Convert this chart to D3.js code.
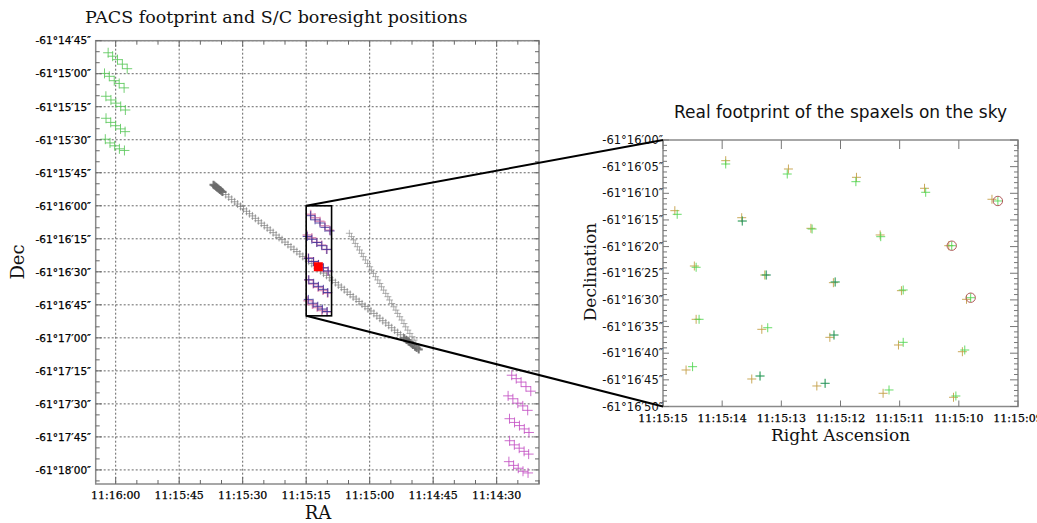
<!DOCTYPE html>
<html>
<head>
<meta charset="utf-8">
<script src="https://cdn.jsdelivr.net/npm/d3@7"></script>
<style>
  body { margin: 0; background: #fff; }
  svg { display: block; }
</style>
</head>
<body>
<svg id="chart" width="1037" height="523"></svg>
<script>
// RA values are seconds after 11:14:00, Dec values are arcseconds south of -61°14'00".

// --- Axis ticks ---
const leftRaTicks = [120, 105, 90, 75, 60, 45, 30];
const leftRaLabels = ["11:16:00", "11:15:45", "11:15:30", "11:15:15", "11:15:00", "11:14:45", "11:14:30"];
const leftDecTicks = [45, 60, 75, 90, 105, 120, 135, 150, 165, 180, 195, 210, 225, 240];
const leftDecLabels = ["-61°14′45″", "-61°15′00″", "-61°15′15″", "-61°15′30″", "-61°15′45″",
  "-61°16′00″", "-61°16′15″", "-61°16′30″", "-61°16′45″", "-61°17′00″",
  "-61°17′15″", "-61°17′30″", "-61°17′45″", "-61°18′00″"];
const rightRaTicks = [75, 74, 73, 72, 71, 70, 69];
const rightRaLabels = ["11:15:15", "11:15:14", "11:15:13", "11:15:12", "11:15:11", "11:15:10", "11:15:09"];
const rightDecTicks = [120, 125, 130, 135, 140, 145, 150, 155, 160, 165, 170];
const rightDecLabels = ["-61°16′00″", "-61°16′05″", "-61°16′10″", "-61°16′15″", "-61°16′20″",
  "-61°16′25″", "-61°16′30″", "-61°16′35″", "-61°16′40″", "-61°16′45″", "-61°16′50″"];

// --- Spaxel centres, first observation (gold) ---
const spaxARa = [73.94, 72.88, 71.73, 70.58, 69.44, 74.80, 73.67, 72.50, 71.33, 70.17,
  74.47, 73.28, 72.12, 70.97, 69.87, 74.44, 73.33, 72.18, 71.02, 69.94,
  74.61, 73.50, 72.40, 71.28, 70.09];
const spaxADec = [123.88, 125.44, 127.00, 129.06, 131.12, 133.26, 134.58, 136.57, 137.82, 139.83,
  143.64, 145.33, 146.77, 148.27, 149.89, 153.64, 155.52, 157.02, 158.46, 159.72,
  163.15, 164.84, 166.15, 167.52, 168.27];

// --- Spaxel centres, second observation (green) ---
const spaxBRa = [73.94, 72.90, 71.74, 70.56, 69.34, 74.76, 73.66, 72.48, 71.32, 70.12,
  74.44, 73.26, 72.09, 70.94, 69.80, 74.39, 73.23, 72.11, 70.94, 69.90,
  74.50, 73.36, 72.26, 71.18, 70.05];
const spaxBDec = [124.50, 126.38, 127.82, 129.81, 131.44, 133.94, 135.20, 136.70, 138.14, 139.83,
  143.88, 145.33, 146.64, 148.14, 149.59, 153.64, 155.22, 156.59, 157.96, 159.40,
  162.53, 164.28, 165.65, 166.90, 168.03];

// --- Spaxel centres, third observation (dark teal, mostly hidden under green) ---
const spaxCRa = [73.66, 73.25, 72.09, 72.11, 73.36, 72.26];
const spaxCDec = [135.20, 145.33, 146.64, 156.59, 164.28, 165.65];

// spaxels flagged with a circle
const flaggedRa = [69.34, 70.12, 69.80];
const flaggedDec = [131.44, 139.83, 149.59];

// --- Off-source footprint, north-east position ---
const offNeRa = [121.78, 120.72, 119.57, 118.42, 117.28, 122.64, 121.51, 120.34, 119.17, 118.01,
  122.31, 121.12, 119.96, 118.81, 117.71, 122.28, 121.17, 120.02, 118.86, 117.78,
  122.45, 121.34, 120.24, 119.12, 117.93];
const offNeDec = [50.48, 52.04, 53.60, 55.66, 57.72, 59.86, 61.18, 63.17, 64.42, 66.43,
  70.24, 71.93, 73.37, 74.87, 76.49, 80.24, 82.12, 83.62, 85.06, 86.32,
  89.75, 91.44, 92.75, 94.12, 94.87];

// --- Off-source footprint, south-west position ---
const offSwRa = [26.44, 25.38, 24.23, 23.08, 21.94, 27.30, 26.17, 25.00, 23.83, 22.67,
  26.97, 25.78, 24.62, 23.47, 22.37, 26.94, 25.83, 24.68, 23.52, 22.44,
  27.11, 26.00, 24.90, 23.78, 22.59];
const offSwDec = [196.98, 198.54, 200.10, 202.16, 204.22, 206.36, 207.68, 209.67, 210.92, 212.93,
  216.74, 218.43, 219.87, 221.37, 222.99, 226.74, 228.62, 230.12, 231.56, 232.82,
  236.25, 237.94, 239.25, 240.62, 241.37];

// --- Spacecraft boresight, long slew ---
const slewRa = [96.8, 96.1, 95.4, 94.7, 94.0, 93.3, 92.6, 91.9, 91.2, 90.5, 89.8, 89.1, 88.4, 87.7,
  87.0, 86.3, 85.6, 84.9, 84.2, 83.5, 82.8, 82.1, 81.4, 80.7, 80.0, 79.3, 78.6, 77.9, 77.2, 76.5,
  75.8, 75.1, 74.4, 73.7, 73.0, 72.3, 71.6, 70.9, 70.2, 69.5, 68.8, 68.1, 67.4, 66.7, 66.0, 65.3,
  64.6, 63.9, 63.2, 62.5, 61.8, 61.1, 60.4, 59.7, 59.0, 58.3, 57.6, 56.9, 56.2, 55.5, 54.8, 54.1,
  53.4, 52.7, 52.0, 51.3, 50.6, 49.9, 49.2, 48.5];
const slewDec = [110.6, 111.7, 112.8, 113.8, 114.9, 116.0, 117.1, 118.2, 119.2, 120.3, 121.4, 122.5,
  123.6, 124.6, 125.7, 126.8, 127.9, 129.0, 130.0, 131.1, 132.2, 133.3, 134.4, 135.4, 136.5, 137.6,
  138.7, 139.8, 140.8, 141.9, 143.0, 144.1, 145.2, 146.2, 147.3, 148.4, 149.5, 150.6, 151.6, 152.7,
  153.8, 154.9, 156.0, 157.0, 158.1, 159.2, 160.3, 161.4, 162.4, 163.5, 164.6, 165.7, 166.8, 167.8,
  168.9, 170.0, 171.1, 172.2, 173.2, 174.3, 175.4, 176.5, 177.6, 178.6, 179.7, 180.8, 181.9, 183.0,
  184.0, 185.1];
// dense dwell at both ends of the slew
const dwellRa = [96.9, 96.6, 96.3, 96.0, 95.7, 95.4, 95.1, 94.8, 51.8, 51.3, 50.8, 50.3, 49.8, 49.3, 48.9, 48.4];
const dwellDec = [110.4, 110.9, 111.4, 111.8, 112.3, 112.8, 113.2, 113.7, 180.2, 181.0, 181.8, 182.5, 183.2, 184.0, 184.6, 185.3];

// --- Spacecraft boresight, short slew ---
const slew2Ra = [64.8, 64.3, 63.8, 63.4, 62.9, 62.4, 61.9, 61.5, 61.0, 60.5, 60.0, 59.6, 59.1, 58.6,
  58.1, 57.6, 57.2, 56.7, 56.2, 55.7, 55.3, 54.8, 54.3, 53.8, 53.4, 52.9, 52.4, 51.9, 51.5, 51.0,
  50.5, 50.0, 49.5, 49.1, 48.6];
const slew2Dec = [132.5, 134.0, 135.5, 137.1, 138.6, 140.1, 141.6, 143.1, 144.6, 146.2, 147.7, 149.2,
  150.7, 152.2, 153.7, 155.3, 156.8, 158.3, 159.8, 161.3, 162.8, 164.4, 165.9, 167.4, 168.9, 170.4,
  171.9, 173.5, 175.0, 176.5, 178.0, 179.5, 181.0, 182.6, 184.1];

// target position
const targetRa = [72.13];
const targetDec = [147.7];

// zoomed field shown on the right
const zoomRa = [75, 69];
const zoomDec = [120, 170];

// ------------------------------------------------------------------
const svg = d3.select("#chart");

const xL = d3.scaleLinear().domain([124.72, 20]).range([95.7, 539]);
const yL = d3.scaleLinear().domain([45, 246.4]).range([40.7, 484]);
const xR = d3.scaleLinear().domain([75, 69]).range([663, 1018]);
const yR = d3.scaleLinear().domain([120, 170]).range([140, 406.5]);

const serif = "'DejaVu Serif', serif";
const sans = "'DejaVu Sans', sans-serif";

function crosses(g, x, y, ra, dec, arm, style) {
  g.append("g").selectAll("path")
    .data(d3.range(ra.length))
    .join("path")
    .attr("d", i => {
      const px = x(ra[i]), py = y(dec[i]);
      return `M${px - arm},${py}h${2 * arm}M${px},${py - arm}v${2 * arm}`;
    })
    .attr("fill", "none")
    .attr("stroke", style.color)
    .attr("stroke-width", style.width || 1)
    .attr("stroke-opacity", style.opacity == null ? 1 : style.opacity);
}

function minorValues(lo, hi, step, majors) {
  const out = [];
  for (let v = Math.ceil(lo / step) * step; v <= hi + 1e-9; v += step) {
    if (!majors.some(m => Math.abs(m - v) < 1e-6)) out.push(v);
  }
  return out;
}

function frameTicks(g, x, y, xMaj, yMaj, xMin, yMin, majLen, minLen, color) {
  const [x0, x1] = x.range(), [y0, y1] = y.range();
  const t = g.append("g").attr("stroke", color).attr("stroke-width", 1);
  xMaj.forEach(v => {
    t.append("line").attr("x1", x(v)).attr("x2", x(v)).attr("y1", y1).attr("y2", y1 - majLen.bottom);
    t.append("line").attr("x1", x(v)).attr("x2", x(v)).attr("y1", y0).attr("y2", y0 + majLen.top);
  });
  xMin.forEach(v => {
    t.append("line").attr("x1", x(v)).attr("x2", x(v)).attr("y1", y1).attr("y2", y1 - minLen);
    t.append("line").attr("x1", x(v)).attr("x2", x(v)).attr("y1", y0).attr("y2", y0 + minLen);
  });
  yMaj.forEach(v => {
    t.append("line").attr("x1", x0).attr("x2", x0 + majLen.left).attr("y1", y(v)).attr("y2", y(v));
    t.append("line").attr("x1", x1).attr("x2", x1 - majLen.right).attr("y1", y(v)).attr("y2", y(v));
  });
  yMin.forEach(v => {
    t.append("line").attr("x1", x0).attr("x2", x0 + minLen).attr("y1", y(v)).attr("y2", y(v));
    t.append("line").attr("x1", x1).attr("x2", x1 - minLen).attr("y1", y(v)).attr("y2", y(v));
  });
}

// ================= Left panel =================
const left = svg.append("g");
svg.append("defs").append("clipPath").attr("id", "clipL")
  .append("rect").attr("x", 95.7).attr("y", 40.7).attr("width", 539 - 95.7).attr("height", 484 - 40.7);

// dotted grid
const grid = left.append("g").attr("stroke", "#666").attr("stroke-width", 1).attr("stroke-dasharray", "2,2");
leftRaTicks.forEach(v => grid.append("line").attr("x1", xL(v)).attr("x2", xL(v)).attr("y1", 40.7).attr("y2", 484));
leftDecTicks.forEach(v => grid.append("line").attr("y1", yL(v)).attr("y2", yL(v)).attr("x1", 95.7).attr("x2", 539));

const plotL = left.append("g").attr("clip-path", "url(#clipL)");

crosses(plotL, xL, yL, slewRa, slewDec, 4, { color: "#7c7c7c", opacity: 0.7 });
crosses(plotL, xL, yL, dwellRa, dwellDec, 4, { color: "#6a6a6a", opacity: 0.85, width: 2 });
crosses(plotL, xL, yL, slew2Ra, slew2Dec, 3.5, { color: "#8c8c8c", opacity: 0.65 });

crosses(plotL, xL, yL, offNeRa, offNeDec, 5, { color: "#5cc85c", opacity: 0.85 });
crosses(plotL, xL, yL, offSwRa, offSwDec, 5, { color: "#c452c4", opacity: 0.85 });
crosses(plotL, xL, yL, spaxARa, spaxADec, 4.5, { color: "#d67aa8", opacity: 0.8, width: 1.6 });
crosses(plotL, xL, yL, spaxBRa, spaxBDec, 4.5, { color: "#3c2f96", opacity: 0.85 });

// target
plotL.selectAll("rect.target").data(d3.range(targetRa.length)).join("rect")
  .attr("class", "target")
  .attr("x", i => xL(targetRa[i]) - 4.5).attr("y", i => yL(targetDec[i]) - 4.5)
  .attr("width", 9).attr("height", 9).attr("fill", "#ff0000");

// zoomed field outline
left.append("rect")
  .attr("x", xL(zoomRa[0])).attr("y", yL(zoomDec[0]))
  .attr("width", xL(zoomRa[1]) - xL(zoomRa[0])).attr("height", yL(zoomDec[1]) - yL(zoomDec[0]))
  .attr("fill", "none").attr("stroke", "#000").attr("stroke-width", 1.6);

// frame + ticks
left.append("rect").attr("x", 95.7).attr("y", 40.7).attr("width", 539 - 95.7).attr("height", 484 - 40.7)
  .attr("fill", "none").attr("stroke", "#8a8a8a").attr("stroke-width", 1.5);
frameTicks(left, xL, yL, leftRaTicks, leftDecTicks,
  minorValues(20, 124.72, 5, leftRaTicks), minorValues(45, 246.4, 5, leftDecTicks),
  { bottom: 7, top: 6, left: 6, right: 5 }, 4, "#666");

// tick labels
left.append("g").selectAll("text").data(d3.range(leftRaTicks.length)).join("text")
  .attr("x", i => xL(leftRaTicks[i])).attr("y", 498.5)
  .attr("text-anchor", "middle").attr("font-family", serif).attr("font-size", 11)
  .attr("fill", "#000").attr("stroke", "#000").attr("stroke-width", 0.25)
  .text(i => leftRaLabels[i]);
left.append("g").selectAll("text").data(d3.range(leftDecTicks.length)).join("text")
  .attr("x", 91).attr("y", i => yL(leftDecTicks[i])).attr("dy", "0.36em")
  .attr("text-anchor", "end").attr("font-family", sans).attr("font-size", 10.5)
  .attr("fill", "#000").attr("stroke", "#000").attr("stroke-width", 0.25)
  .text(i => leftDecLabels[i]);

// titles
left.append("text").attr("x", 85).attr("y", 23).attr("font-family", serif).attr("font-size", 17.5)
  .attr("fill", "#111").text("PACS footprint and S/C boresight positions");
left.append("text").attr("x", 318).attr("y", 519).attr("text-anchor", "middle")
  .attr("font-family", serif).attr("font-size", 18).attr("fill", "#111").text("RA");
left.append("text").attr("transform", "translate(24,262) rotate(-90)").attr("text-anchor", "middle")
  .attr("font-family", serif).attr("font-size", 18).attr("fill", "#111").text("Dec");

// ================= Right panel =================
const right = svg.append("g");
svg.select("defs").append("clipPath").attr("id", "clipR")
  .append("rect").attr("x", 663).attr("y", 140).attr("width", 1018 - 663).attr("height", 406.5 - 140);
const plotR = right.append("g").attr("clip-path", "url(#clipR)");

crosses(plotR, xR, yR, spaxARa, spaxADec, 4.5, { color: "#c4a048", opacity: 0.9 });
crosses(plotR, xR, yR, spaxBRa, spaxBDec, 4.5, { color: "#4fd64f", opacity: 0.85 });
crosses(plotR, xR, yR, spaxCRa, spaxCDec, 4.5, { color: "#1f6e72", opacity: 0.6 });
plotR.append("g").selectAll("circle").data(d3.range(flaggedRa.length)).join("circle")
  .attr("cx", i => xR(flaggedRa[i])).attr("cy", i => yR(flaggedDec[i])).attr("r", 4.7)
  .attr("fill", "none").attr("stroke", "#b05a5a").attr("stroke-width", 1);

right.append("rect").attr("x", 663).attr("y", 140).attr("width", 1018 - 663).attr("height", 406.5 - 140)
  .attr("fill", "none").attr("stroke", "#8a8a8a").attr("stroke-width", 1.5);
frameTicks(right, xR, yR, rightRaTicks, rightDecTicks,
  [], minorValues(120, 170, 1, rightDecTicks),
  { bottom: 6, top: 9, left: 6, right: 8 }, 4, "#777");

right.append("g").selectAll("text").data(d3.range(rightRaTicks.length)).join("text")
  .attr("x", i => xR(rightRaTicks[i])).attr("y", 421.5)
  .attr("text-anchor", "middle").attr("font-family", serif).attr("font-size", 11)
  .attr("fill", "#000").attr("stroke", "#000").attr("stroke-width", 0.25)
  .text(i => rightRaLabels[i]);
right.append("g").selectAll("text").data(d3.range(rightDecTicks.length)).join("text")
  .attr("x", 663).attr("y", i => yR(rightDecTicks[i])).attr("dy", "0.36em")
  .attr("text-anchor", "end").attr("font-family", sans).attr("font-size", 11.5).attr("fill", "#111")
  .text(i => rightDecLabels[i]);

right.append("text").attr("x", 840.5).attr("y", 118).attr("text-anchor", "middle")
  .attr("font-family", sans).attr("font-size", 17).attr("fill", "#111")
  .text("Real footprint of the spaxels on the sky");
right.append("text").attr("x", 840.5).attr("y", 441).attr("text-anchor", "middle")
  .attr("font-family", serif).attr("font-size", 17).attr("fill", "#111").text("Right Ascension");
right.append("text").attr("transform", "translate(596,272) rotate(-90)").attr("text-anchor", "middle")
  .attr("font-family", serif).attr("font-size", 17).attr("fill", "#111").text("Declination");

// ================= Connectors =================
const conn = svg.append("g").attr("stroke", "#000").attr("stroke-width", 2);
conn.append("line")
  .attr("x1", xL(zoomRa[0])).attr("y1", yL(zoomDec[0]))
  .attr("x2", xR(zoomRa[0])).attr("y2", yR(zoomDec[0]));
conn.append("line")
  .attr("x1", xL(zoomRa[0])).attr("y1", yL(zoomDec[1]))
  .attr("x2", xR(zoomRa[0])).attr("y2", yR(zoomDec[1]));
</script>
</body>
</html>
